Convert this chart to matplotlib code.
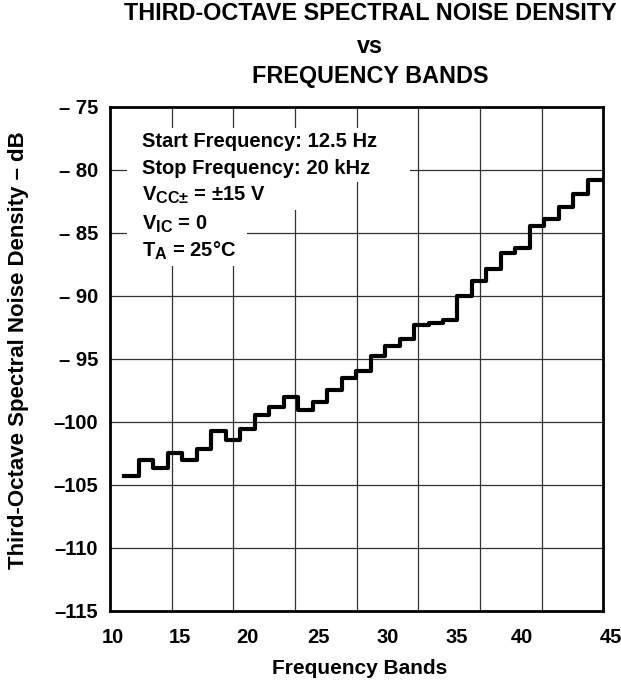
import numpy as np
import matplotlib
matplotlib.use("Agg")
import matplotlib.pyplot as plt
from matplotlib.patches import Rectangle
from matplotlib.transforms import IdentityTransform

# slightly larger subscripts, closer to the datasheet look
try:
    import matplotlib._mathtext as _mt
    _mt.SHRINK_FACTOR = 0.8
except Exception:
    pass

plt.rcParams['font.family'] = ['Liberation Sans', 'DejaVu Sans']
plt.rcParams['font.weight'] = 'bold'
plt.rcParams['mathtext.fontset'] = 'custom'
plt.rcParams['mathtext.rm'] = 'Liberation Sans:bold'
plt.rcParams['mathtext.bf'] = 'Liberation Sans:bold'

# third-octave bands 11 (12.5 Hz) .. 43 (20 kHz)
bands = list(range(11, 44))
noise_db = [-104.3, -103.0, -103.7, -102.5, -103.0, -102.2, -100.7, -101.45,
            -100.6, -99.5, -98.85, -98.0, -99.05, -98.4, -97.45, -96.5,
            -96.0, -94.75, -94.0, -93.4, -92.3, -92.15, -91.9, -90.0,
            -88.85, -87.9, -86.65, -86.25, -84.5, -83.9, -83.0, -81.95, -80.8]
tick_labels = ['10', '15', '20', '25', '30', '35', '40', '45']
tick_pos = [10.19, 14.8, 19.48, 24.41, 29.18, 33.96, 38.43, 44.6]
y_ticks = [-115, -110, -105, -100, -95, -90, -85, -80, -75]
y_labels = ['–115', '–110', '–105', '–100', '– 95', '– 90', '– 85', '– 80', '– 75']
notes = ['Start Frequency: 12.5 Hz',
         'Stop Frequency: 20 kHz',
         r'V$_{\mathbf{CC±}}$ = ±15 V',
         r'V$_{\mathbf{IC}}$ = 0',
         r'T$_{\mathbf{A}}$ = 25°C']

x_lo, x_hi = 10, 44.07

fig = plt.figure(figsize=(6.21, 6.83), dpi=100)
ax = fig.add_axes([0.1771, 0.1058, 0.7944, 0.7380])

# grid: 8 equal divisions across x, 5 dB across y
for gx in np.linspace(x_lo, x_hi, 9)[1:-1]:
    ax.axvline(gx, color='#333333', lw=0.9, zorder=1)
for gy in y_ticks[1:-1]:
    ax.axhline(gy, color='#333333', lw=0.9, zorder=1)

# step curve: each band flat over [n, n+1]
xs = bands + [bands[-1] + 1]
ys = noise_db + [noise_db[-1]]
ax.step(xs, ys, where='post', color='black', lw=3.0, zorder=3)

ax.set_xlim(x_lo, x_hi)
ax.set_ylim(-115, -75)
ax.set_xticks(tick_pos[:-1])
ax.set_xticklabels(tick_labels[:-1], fontsize=14.5, fontweight='bold')
ax.annotate(tick_labels[-1], xy=(tick_pos[-1], 0), xycoords=ax.get_xaxis_transform(),
            xytext=(0, -12.5), textcoords='offset points', ha='center', va='top',
            fontsize=14.5, fontweight='bold', annotation_clip=False)
ax.set_yticks(y_ticks)
ax.set_yticklabels(y_labels, fontsize=14.5, fontweight='bold')
ax.tick_params(axis='x', length=0, pad=12.5)
ax.tick_params(axis='y', length=0, pad=8.4)
for s in ax.spines.values():
    s.set_linewidth(2.0)

ax.set_xlabel('Frequency Bands', fontsize=15, fontweight='bold')
ax.xaxis.set_label_coords(0.507, -0.1256)
ax.xaxis.label.set_verticalalignment('baseline')
ax.set_ylabel('Third-Octave Spectral Noise Density – dB', fontsize=16,
              fontweight='bold')
ax.yaxis.set_label_coords(-0.1845, 0.517)
ax.yaxis.label.set_verticalalignment('center')

note_base = [0.9206, 0.8665, 0.8135, 0.7567, 0.7024]
note_texts = []
for txt, yy in zip(notes, note_base):
    t = ax.text(0.0645, yy, txt, transform=ax.transAxes, fontsize=14.5,
                fontweight='bold', va='baseline', ha='left', zorder=4)
    note_texts.append(t)

fig.text(0.596, 1 - 20 / 683, 'THIRD-OCTAVE SPECTRAL NOISE DENSITY',
         ha='center', va='baseline', fontsize=16.8, fontweight='bold')
fig.text(0.596, 1 - 53 / 683, 'vs', ha='center', va='baseline',
         fontsize=16.8, fontweight='bold')
fig.text(0.596, 1 - 82.5 / 683, 'FREQUENCY BANDS', ha='center', va='baseline',
         fontsize=16.8, fontweight='bold')

# white masks behind the condition text, wider on the right as in the datasheet
fig.canvas.draw()
renderer = fig.canvas.get_renderer()
for t in note_texts:
    bb = t.get_window_extent(renderer)
    mask = Rectangle((bb.x0 - 15, bb.y0 - 4), bb.width + 55, bb.height + 8,
                     transform=IdentityTransform(), facecolor='white',
                     edgecolor='none', zorder=2)
    ax.add_artist(mask)

fig.savefig('out.png', dpi=100)
